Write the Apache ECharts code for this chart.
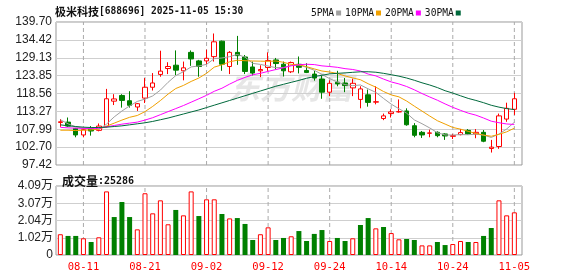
<!DOCTYPE html>
<html><head><meta charset="utf-8">
<script src="https://cdn.jsdelivr.net/npm/echarts@6/dist/echarts.min.js"></script>
<style>html,body{margin:0;padding:0;background:#fff}#c{width:578px;height:276px}</style>
</head><body><div id="c"></div>
<script>
const stockName = '极米科技';
const stockCode = '688696';
const stamp = '2025-11-05 15:30';
const dates = ['08-06','08-07','08-08','08-11','08-12','08-13','08-14','08-15','08-18','08-19','08-20','08-21','08-22','08-25','08-26','08-27','08-28','08-29','09-01','09-02','09-03','09-04','09-05','09-08','09-09','09-10','09-11','09-12','09-15','09-16','09-17','09-18','09-19','09-22','09-23','09-24','09-25','09-26','09-29','09-30','10-09','10-10','10-13','10-14','10-15','10-16','10-17','10-20','10-21','10-22','10-23','10-24','10-27','10-28','10-29','10-30','10-31','11-03','11-04','11-05'];
const opens = [110.0,110.1,108.25,106.3,108.25,107.66,108.83,116.3,117.98,116.42,114.57,117.2,120.41,124.2,125.95,126.93,125.27,130.72,128.2,128.2,129.46,134.03,126.54,130.72,129.36,126.4,125.27,126.25,128.49,127.22,124.98,127.2,125.37,124.3,122.84,118.95,121.9,121.67,120.22,116.81,118.17,116.0,111.17,112.62,113.11,113.4,109.03,107.08,106.8,107.08,106.6,105.9,106.4,107.66,106.6,107.08,102.31,102.89,111.0,113.89];
const closes = [110.2,108.93,106.3,107.86,107.47,108.93,117.0,116.95,116.52,115.06,115.55,120.41,121.67,125.18,126.54,125.47,126.15,128.78,126.54,128.97,133.84,127.22,130.72,129.75,125.08,124.6,125.66,128.29,127.42,125.27,127.71,126.3,124.79,123.13,118.95,121.58,121.4,120.9,121.58,119.92,115.93,116.13,111.94,113.11,113.2,109.32,106.2,106.3,106.9,106.1,106.0,106.1,107.0,106.6,107.08,104.45,102.7,111.94,114.18,117.0];
const lows = [108.7,108.7,105.62,105.6,106.1,107.37,108.5,115.15,114.38,114.38,113.4,115.74,119.44,123.52,124.3,124.0,122.45,126.73,123.52,127.22,128.0,125.27,124.3,127.03,124.3,123.9,123.4,125.27,125.66,123.6,124.6,124.5,124.6,122.35,117.0,117.78,120.7,118.95,117.78,114.18,114.67,115.35,110.68,111.46,112.9,109.03,105.62,105.42,105.62,105.62,104.84,105.1,106.2,106.4,105.33,104.16,101.1,102.2,110.2,112.23];
const highs = [111.0,111.46,108.4,108.05,108.93,109.7,119.92,118.36,118.36,119.24,115.74,123.13,124.6,131.21,127.8,131.3,128.0,131.3,128.5,131.5,136.3,134.2,131.1,135.59,129.94,128.0,126.9,130.72,129.07,128.0,128.0,129.5,127.51,125.27,123.81,122.45,125.27,123.13,122.94,120.7,119.73,120.7,112.62,113.89,116.81,114.18,109.8,107.47,107.86,107.37,106.8,106.6,108.05,108.05,108.05,107.76,104.84,112.62,115.84,118.75];
const volumes = [12300,11300,11300,9900,7700,10500,37700,22500,31400,22500,15200,36600,24700,32400,18200,26700,23500,37700,23100,33000,33000,24300,21700,21900,18400,8900,12300,16400,8900,10100,11100,14200,8300,12500,14800,8300,10100,8300,9900,17800,21900,15800,16600,13000,9300,9500,8900,5700,5700,7700,5900,6500,8300,7700,7700,11300,16000,32400,23500,25286];
// moving-average values for the bars before each window is full
const ma5Head = [110.8,109.6,108.7,108.3];
const ma10Head = [107.7,107.7,107.6,107.7,107.8,108.0,108.9,109.8,110.7];
const ma20Head = [108.55,108.4,108.3,108.25,108.25,108.25,108.7,109.1,109.5,109.8,110.1,110.7,111.4,112.3,113.2,114.1,115.0,116.0,117.0];
const ma30Head = [109.3,109.0,108.8,108.6,108.5,108.5,108.6,108.8,109.0,109.3,109.6,109.9,110.3,110.8,111.3,111.9,112.5,113.1,113.7,114.4,115.1,115.8,116.5,117.2,117.9,118.6,119.3,120.0,120.7];
const priceTicks = ['97.42','102.70','107.99','113.27','118.56','123.85','129.13','134.42','139.70'];
const volTicks = ['0','1.02万','2.04万','3.07万','4.09万'];
const xTickDates = ['08-11','08-21','09-02','09-12','09-24','10-14','10-24','11-05'];
const maNames = ['5PMA','10PMA','20PMA','30PMA'];
const maColors = ['#a0a0a0','#f0a000','#ff00ff','#00693c'];

const UP = '#ff0000', DOWN = '#008000', GRIDC = '#cfcfcf', FRAME = '#999999', GUIDE = '#aaaaaa';
const priceMin = parseFloat(priceTicks[0]), priceMax = parseFloat(priceTicks[priceTicks.length-1]);
const volMax = parseFloat(volTicks[volTicks.length-1]) * 10000;

function ma(n, head) {
  return closes.map((c, i) => {
    if (i < n - 1) return head[i];
    let s = 0; for (let k = i - n + 1; k <= i; k++) s += closes[k];
    return +(s / n).toFixed(2);
  });
}
const maData = [ma(5, ma5Head), ma(10, ma10Head), ma(20, ma20Head), ma(30, ma30Head)];
const candles = opens.map((o, i) => [o, closes[i], lows[i], highs[i]]);
const volData = volumes.map((v, i) => {
  const up = i === 0 ? closes[0] >= opens[0] : closes[i] >= closes[i - 1];
  return { value: v, itemStyle: up ? { color: '#ffffff', borderColor: UP, borderWidth: 1 } : { color: DOWN, borderColor: DOWN, borderWidth: 0 } };
});

const MONO = "'DejaVu Sans Mono', monospace";
const SANS = "'Liberation Sans', 'Noto Sans CJK SC', sans-serif";
const CJK = "'Noto Sans CJK SC', sans-serif";

const upperTop = 22, upperH = 143, lowerTop = 186, lowerH = 69;
const frameLeft = 56, frameW = 466, dataLeft = 56.5, dataW = 461.7;

// vertical dashed guide lines at the labelled dates: a hidden value x axis whose integers are bar centres
const guideIdx = xTickDates.map(d => dates.indexOf(d));
function guideLines(xi, yi, y0, y1) {
  return guideIdx.map(i => ({
    type: 'line', xAxisIndex: xi, yAxisIndex: yi, silent: true, z: 1, symbol: 'none', showSymbol: false,
    data: [[i, y0], [i, y1]],
    lineStyle: { color: GUIDE, width: 1, type: [4, 3] }
  }));
}

const chart = echarts.init(document.getElementById('c'), null, { renderer: 'canvas' });
chart.setOption({
  animation: false,
  backgroundColor: '#ffffff',
  title: [
    { text: '{a|' + stockName + '}{b|[' + stockCode + '] ' + stamp + '}', left: 50, top: 1,
      textStyle: { rich: { a: { fontFamily: CJK, fontSize: 11, color: '#111' }, b: { fontFamily: MONO, fontSize: 9.6, color: '#111' } } } },
    { text: '{a|成交量}{b|:' + volumes[volumes.length - 1] + '}', left: 57, top: 170,
      textStyle: { rich: { a: { fontFamily: CJK, fontSize: 12, color: '#111' }, b: { fontFamily: MONO, fontSize: 10, color: '#111' } } } }
  ],
  legend: {
    left: 306, top: 3, itemWidth: 5, itemHeight: 5, itemGap: 4, align: 'right', icon: 'rect',
    selectedMode: false, data: maNames,
    textStyle: { fontFamily: MONO, fontSize: 9.6, color: '#111', padding: [0, -3, 0, 0] }
  },
  graphic: [{
    type: 'text', left: 229, top: 72, z: -1, silent: true,
    style: { text: '东方财富', fill: '#e6e6e6', font: 'italic bold 31px ' + CJK }
  }],
  grid: [
    { left: frameLeft, top: upperTop, width: frameW, height: upperH, show: true, borderColor: FRAME, borderWidth: 1, backgroundColor: 'rgba(0,0,0,0)' },
    { left: dataLeft, top: upperTop, width: dataW, height: upperH },
    { left: frameLeft, top: lowerTop, width: frameW, height: lowerH, show: true, borderColor: FRAME, borderWidth: 1, backgroundColor: 'rgba(0,0,0,0)' },
    { left: dataLeft, top: lowerTop, width: dataW, height: lowerH }
  ],
  xAxis: [
    { gridIndex: 0, type: 'value', min: 0, max: 1, show: false },
    { gridIndex: 1, type: 'category', data: dates, boundaryGap: true, axisLine: { show: false }, axisTick: { show: false }, axisLabel: { show: false }, splitLine: { show: false } },
    { gridIndex: 2, type: 'value', min: 0, max: 1, show: false },
    { gridIndex: 3, type: 'category', data: dates, boundaryGap: true, axisLine: { show: false }, axisTick: { show: false }, splitLine: { show: false },
      axisLabel: { show: true, color: '#ff0000', fontFamily: MONO, fontSize: 10.5, margin: 7, interval: (i, v) => xTickDates.indexOf(v) >= 0 } },
    { gridIndex: 1, type: 'value', min: -0.5, max: dates.length - 0.5, show: false, splitLine: { show: false } },
    { gridIndex: 3, type: 'value', min: -0.5, max: dates.length - 0.5, show: false, splitLine: { show: false } }
  ],
  yAxis: [
    { gridIndex: 0, type: 'value', min: 0, max: priceTicks.length - 1, interval: 1,
      axisLine: { show: false }, axisTick: { show: false },
      axisLabel: { color: '#222', fontFamily: SANS, fontSize: 12, margin: 4, formatter: v => priceTicks[v] },
      splitLine: { show: true, lineStyle: { color: GRIDC, width: 1 } } },
    { gridIndex: 1, type: 'value', min: priceMin, max: priceMax, show: false, splitLine: { show: false } },
    { gridIndex: 2, type: 'value', min: 0, max: volTicks.length - 1, interval: 1,
      axisLine: { show: false }, axisTick: { show: false },
      axisLabel: { color: '#222', fontFamily: SANS, fontSize: 12, margin: 3, formatter: v => volTicks[v] },
      splitLine: { show: true, lineStyle: { color: GRIDC, width: 1 } } },
    { gridIndex: 3, type: 'value', min: 0, max: volMax, show: false, splitLine: { show: false } }
  ],
  series: [
    ...guideLines(4, 1, priceMin, priceMax),
    ...guideLines(5, 3, 0, volMax),
    { type: 'candlestick', xAxisIndex: 1, yAxisIndex: 1, data: candles, barWidth: 5, z: 2,
      itemStyle: { color: '#ffffff', color0: DOWN, borderColor: UP, borderColor0: DOWN, borderWidth: 1 } },
    ...maNames.map((n, k) => ({
      name: n, type: 'line', xAxisIndex: 1, yAxisIndex: 1, data: maData[k], showSymbol: false, symbol: 'none', z: 3,
      color: maColors[k], lineStyle: { width: 1, color: maColors[k] }, itemStyle: { color: maColors[k] }, silent: true
    })),
    { type: 'bar', xAxisIndex: 3, yAxisIndex: 3, data: volData, barWidth: 5, z: 2 }
  ]
});
</script></body></html>
